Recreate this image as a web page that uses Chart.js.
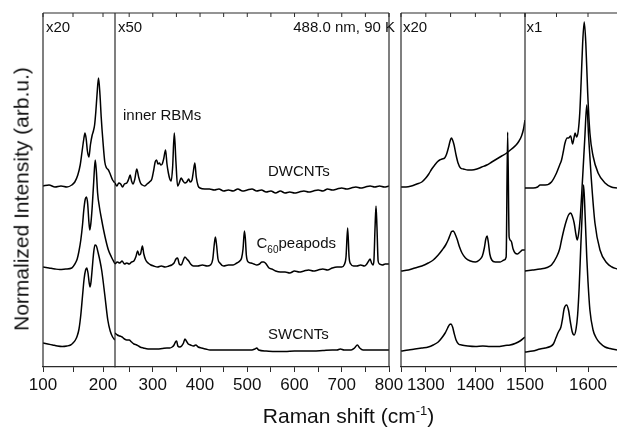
<!DOCTYPE html>
<html>
<head>
<meta charset="utf-8">
<script src="https://cdn.jsdelivr.net/npm/chart.js@4.4.1/dist/chart.umd.min.js"></script>
<style>
  body { margin: 0; background: #fff; }
  #wrap { position: relative; width: 617px; height: 427px; overflow: hidden;
          font-family: "Liberation Sans", Arial, Helvetica, sans-serif; color: #111; }
  #wrap canvas { position: absolute; left: 0; top: 0; }
  .t { position: absolute; white-space: nowrap; font-size: 15px; line-height: 1; }
</style>
</head>
<body>
<div id="wrap">
  <canvas id="pA" width="617" height="427"></canvas>
  <canvas id="pB" width="617" height="427"></canvas>
  <canvas id="pC" width="617" height="427"></canvas>
  <canvas id="pD" width="617" height="427"></canvas>

  <div class="t" style="left:46px;top:18.5px">x20</div>
  <div class="t" style="left:118px;top:18.5px">x50</div>
  <div class="t" style="right:222px;top:18.5px">488.0 nm, 90 K</div>
  <div class="t" style="left:403px;top:18.5px">x20</div>
  <div class="t" style="left:526.5px;top:18.5px">x1</div>

  <div class="t" style="left:123px;top:106.5px">inner RBMs</div>
  <div class="t" style="left:268px;top:163px">DWCNTs</div>
  <div class="t" style="left:256.5px;top:235px">C<span style="font-size:10px;position:relative;top:5px">60</span>peapods</div>
  <div class="t" style="left:268px;top:326px">SWCNTs</div>

  <div class="t" style="font-size:21px;left:21px;top:198.5px;transform:translate(-50%,-50%) rotate(-90deg)">Normalized Intensity (arb.u.)</div>
  <div class="t" style="font-size:21px;left:348.5px;top:405px;transform:translateX(-50%)">Raman shift (cm<span style="font-size:13px;position:relative;top:-8px">-1</span>)</div>
</div>

<script>
// Раман-спектры: DWCNT, C60@SWCNT (peapods), SWCNT
// пары [волновое число, интенсивность], интенсивность в произвольных единицах (0..354)

// ---- RBM, 100–220 (x20)
const dwA = [[100,181],[110,182],[120,180],[130,181],[140,180],[148,182],[153,185],[158,192],[162,202],[165,215],[168,228],[170,234],[172,228],[174,216],[176.5,210],[179,222],[182,232],[184,236],[186,242],[188,255],[190,272],[192.5,289],[195,272],[197,250],[200,225],[203,205],[206,199],[209,197],[212,193],[216,187],[220,184]]
const c60A = [[100,100],[110,99],[120,98],[128,97.5],[138,98],[148,99],[153,103],[157,108],[160,116],[163,127],[166,143],[168,157],[170.5,168],[172.5,170],[174.5,163],[176.5,145],[178,137],[180,145],[182,160],[184.5,185],[187,207],[189,195],[191,174],[194,160],[197.5,148],[201,137],[205,126],[209,117],[214,110],[220,103]]
const swA = [[100,24],[108,23],[116,22],[124,21],[132,20.5],[140,21],[146,22],[150,24],[154,27],[157,31],[160,38],[163,52],[166,72],[168.5,88],[171,97],[173,99],[175,94],[177,84],[178.5,80],[180,85],[182,98],[184,112],[186.5,122],[189,121],[192,114],[195,106],[198,96],[203,72],[208,47],[212,36],[216,30],[220,27]]

// ---- 220–800 (x50)
const dwB = [[220,184],[224,181],[228,184],[232,183],[236,180],[240,183],[245,184],[249,188],[252,192],[255,186],[258,183],[262,188],[266,198],[270,190],[274,184],[278,182],[283,181],[288,183],[293,185],[298,188],[302,197],[305,205],[308,207],[311,203],[314,204],[317,202],[320,203],[323,208],[327,217],[330,203],[333,194],[336,188],[339,186],[342,200],[345.5,234],[349,205],[352.5,181],[356,184],[360,189],[364,186],[368,184],[372,185],[376,188],[379,185],[383,187],[386,196],[389,204],[392,190],[396,181],[400,179],[410,178],[420,178],[430,177],[440,178],[450,176],[460,177],[470,176],[480,178],[490,176],[500,177],[510,178],[520,176],[530,177],[540,175],[550,176],[560,174],[570,176],[580,174],[590,175],[600,174],[610,175],[620,176],[630,175],[640,176],[650,177],[660,176],[670,178],[680,177],[690,178],[700,179],[710,178],[720,179],[730,180],[740,179],[750,180],[760,181],[770,180],[780,181],[790,180],[800,181]]
const c60B = [[220,103],[225,105],[230,104],[235,106],[240,103],[245,104],[250,103],[255,105],[260,106],[264,110],[268,116],[271,112],[274,113],[278,121],[281,113],[285,107],[290,104],[296,102],[302,101],[310,100],[318,101],[326,100],[334,101],[340,102],[345,104],[349,108],[352.5,109],[356,103],[360,102],[364,106],[368,110],[372,108],[376,106],[380,103],[386,101],[395,101],[405,102],[415,101],[422,102],[427,108],[430,122],[432.5,130],[435,122],[438,108],[442,104],[450,101],[460,102],[470,102],[478,104],[484,106],[488,109],[491,118],[494,136],[496,128],[498,112],[502,105],[508,104],[514,103],[520,102],[526,103],[531,105],[535,105],[540,103],[546,99],[552,98],[560,96],[570,95],[580,95],[590,94],[600,96],[610,95],[620,96],[630,97],[640,96],[650,97],[660,98],[670,97],[680,99],[690,100],[700,100],[705,102],[709,110],[712.5,139],[715.5,110],[719,103],[725,101],[732,101],[740,102],[748,101],[753,103],[757,106],[760,108],[763,104],[766,102],[768,106],[770.5,140],[772.5,161],[774.5,140],[777,106],[780,103],[786,102],[792,103],[800,103]]
const swB = [[220,34],[225,32],[230,31],[235,30],[240,28],[245,27],[250,27],[255,25],[260,23],[266,22],[273,20],[280,19],[290,18],[300,18],[310,18],[320,18.5],[330,19],[336,19],[341,20],[345,22],[348,25],[350.5,26],[353,21],[357,20],[361,21],[365,24],[368,28],[371,26],[375,23],[380,22],[386,21],[391,22],[396,20],[403,19],[412,18],[421,17],[440,17],[460,17],[480,17],[500,17],[510,17],[516,18],[520,19],[524,17],[540,16],[560,15.5],[580,15.5],[600,16],[620,16],[640,16],[660,16.5],[680,17],[690,17],[697,18],[705,17],[720,17],[727,19],[733,22],[738,19],[745,17],[760,17],[780,17],[800,17]]

// ---- D-мода, 1250–1500 (x20)
const dwC = [[1250,180],[1260,180],[1271,181],[1282,183],[1292,185],[1300,189],[1306,193],[1312,198],[1318,202],[1323,205],[1328,207],[1333,208],[1338,209],[1342,213],[1346,220],[1349,226],[1351.5,229],[1354,227],[1357,222],[1361,212],[1365,204],[1370,199],[1376,198],[1385,197],[1393,197],[1403,198],[1413,200],[1423,202],[1433,205],[1443,208],[1453,211],[1463,214],[1473,218],[1482,222],[1488,226],[1493,231],[1497,238],[1500,247]]
const c60C = [[1250,96],[1265,97],[1278,99],[1292,101],[1305,104],[1315,107],[1325,112],[1333,117],[1340,122],[1345,127],[1349,132],[1352,135.5],[1355.5,136],[1359,133],[1363,128],[1368,120],[1373,114],[1380,109],[1390,106],[1400,105],[1408,107],[1414,111],[1418,119],[1421,128],[1423.5,131],[1426,125],[1429,113],[1433,107],[1440,105],[1450,105],[1458,107],[1462,110],[1465,235],[1468,130],[1472,126],[1476,118],[1480,114],[1485,113],[1490,115],[1495,117],[1500,117]]
const swC = [[1250,16],[1265,17],[1278,18],[1292,19],[1305,20],[1315,22],[1325,25],[1332,29],[1339,34],[1344,39],[1348,42.5],[1351,43],[1354,40],[1357,34],[1361,27],[1366,23],[1372,22],[1385,21],[1400,20.5],[1415,21],[1430,20.5],[1445,20.5],[1460,21.5],[1470,22],[1480,23.5],[1490,26],[1500,30]]

// ---- G-мода, 1500–1646 (x1)
const dwD = [[1500,179],[1513,179],[1520,180],[1524,182],[1532,182],[1542,185],[1550,194],[1555,202],[1558,207],[1561,216],[1563.5,224],[1567,229],[1569,229],[1572.5,231],[1575.5,223],[1578,230],[1579.5,234],[1582,230],[1584.5,236],[1587,255],[1589,284],[1591.5,324],[1594,345],[1596.5,324],[1599.5,274],[1603,234],[1608,211],[1616,194],[1627,184],[1637,180],[1646,179]]
const c60D = [[1500,96],[1512,97],[1524,98],[1535,99.5],[1542,102],[1550,110],[1555,118],[1558,127],[1562,138],[1566,147],[1569,152],[1572.5,154],[1575,151],[1578,144],[1581,132],[1583,127],[1585,133],[1587.5,148],[1591.5,190],[1595,230],[1598,262],[1601,230],[1605,190],[1611,144],[1619,117],[1630,104],[1638,100],[1646,98]]
const swD = [[1500,15],[1512,16],[1524,18],[1532,19],[1540,20.5],[1545,23],[1549,29],[1553,35],[1557,40],[1559.5,48],[1562,58],[1566,62],[1569,57],[1572,45],[1575,35],[1578,32],[1581,38],[1583.5,52],[1586,80],[1588.5,120],[1590.5,150],[1593,182],[1595.5,150],[1598,110],[1600,85],[1603,57],[1608,37],[1613,29],[1619,24],[1627,20],[1635,18.5],[1646,17]]

// подписи делений по панелям
const ticksA = [100, 200]
const ticksB = [300, 400, 500, 600, 700, 800]
const ticksC = [1300, 1400, 1500]
const ticksD = [1600]

const W = 617, H = 427
const plotTop = 13, plotBottom = 367
const frameColor = "#2b2b2b"
const textColor = "#111"
const fontFamily = '"Liberation Sans", Arial, Helvetica, sans-serif'

// рамка панели + внутренние засечки сверху
const framePlugin = {
  id: "frame",
  afterDraw(chart, args, opts) {
    const { ctx, chartArea: { left, right, top, bottom } } = chart
    const x = chart.scales.x
    ctx.save()
    ctx.strokeStyle = frameColor
    ctx.lineWidth = 1.2
    ctx.beginPath()
    ctx.moveTo(left, top); ctx.lineTo(right, top)
    if (opts.left) { ctx.moveTo(left, top); ctx.lineTo(left, bottom) }
    if (opts.right) { ctx.moveTo(right, top); ctx.lineTo(right, bottom) }
    ctx.stroke()
    ctx.lineWidth = 1
    ctx.beginPath()
    x.ticks.forEach(t => {
      const px = x.getPixelForValue(t.value)
      ctx.moveTo(px, top); ctx.lineTo(px, top + 4)
    })
    ctx.stroke()
    ctx.restore()
  }
}

function makePanel(id, xMin, xMax, left, right, labels, sides, series) {
  return new Chart(document.getElementById(id), {
    type: "line",
    data: {
      datasets: series.map(s => ({
        data: s.map(p => ({ x: p[0], y: p[1] })),
        borderColor: "#000",
        borderWidth: 1.5,
        pointRadius: 0,
        fill: false,
        cubicInterpolationMode: "monotone"
      }))
    },
    options: {
      responsive: false,
      animation: false,
      events: [],
      layout: { padding: { left: left, right: W - right, top: plotTop, bottom: 0 } },
      plugins: {
        legend: { display: false },
        tooltip: { enabled: false },
        frame: sides
      },
      scales: {
        x: {
          type: "linear",
          min: xMin,
          max: xMax,
          afterFit: s => { s.height = H - plotBottom },
          ticks: {
            stepSize: 50,
            includeBounds: false,
            autoSkip: false,
            maxRotation: 0,
            padding: 3,
            color: textColor,
            font: { family: fontFamily, size: 17 },
            callback: v => labels.includes(v) ? String(v) : ""
          },
          grid: { drawOnChartArea: false, drawTicks: true, tickLength: 5, color: frameColor, lineWidth: 1 },
          border: { display: true, color: frameColor, width: 1.2 }
        },
        y: { display: false, min: 0, max: plotBottom - plotTop }
      }
    },
    plugins: [framePlugin]
  })
}

makePanel("pA", 100, 220, 43, 115, ticksA, { left: true, right: true }, [dwA, c60A, swA])
makePanel("pB", 220, 800, 115, 389, ticksB, { left: false, right: true }, [dwB, c60B, swB])
makePanel("pC", 1250, 1500, 401, 525, ticksC, { left: true, right: true }, [dwC, c60C, swC])
makePanel("pD", 1500, 1646, 525, 617, ticksD, { left: false, right: false }, [dwD, c60D, swD])
</script>
</body>
</html>
